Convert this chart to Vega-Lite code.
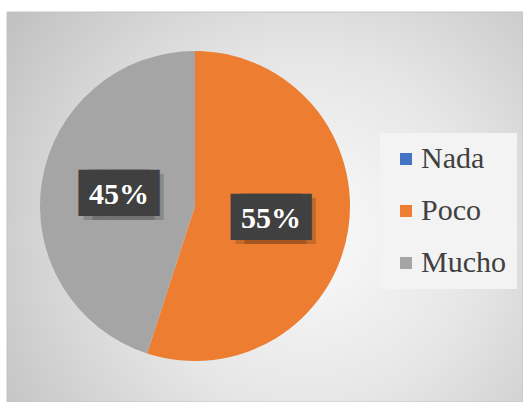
{
  "$schema": "https://vega.github.io/schema/vega-lite/v6.json",
  "width": 516,
  "height": 390,
  "autosize": {"type": "none"},
  "padding": {"left": 7, "top": 12, "right": 0, "bottom": 0},
  "background": "white",
  "config": {"view": {"stroke": null}},
  "data": {
    "values": [
      {"categoria": "Nada", "valor": 0, "orden": 1, "etiqueta": "0%"},
      {"categoria": "Poco", "valor": 55, "orden": 2, "etiqueta": "55%"},
      {"categoria": "Mucho", "valor": 45, "orden": 3, "etiqueta": "45%"}
    ]
  },
  "layer": [
    {
      "data": {"values": [{"fondo": 1}]},
      "mark": {
        "type": "rect",
        "stroke": "#c4c4c4",
        "strokeWidth": 1,
        "fill": {
          "gradient": "radial",
          "x1": 0.58, "y1": 0.55, "r1": 0,
          "x2": 0.58, "y2": 0.55, "r2": 0.75,
          "stops": [
            {"offset": 0, "color": "#fbfbfb"},
            {"offset": 0.45, "color": "#e6e6e6"},
            {"offset": 1, "color": "#bdbdbd"}
          ]
        }
      },
      "encoding": {}
    },
    {
      "mark": {"type": "arc", "x": 188, "y": 194, "outerRadius": 155},
      "encoding": {
        "theta": {"field": "valor", "type": "quantitative", "stack": true},
        "order": {"field": "orden", "type": "quantitative", "sort": "ascending"},
        "color": {
          "field": "categoria",
          "type": "nominal",
          "scale": {"domain": ["Nada", "Poco", "Mucho"], "range": ["#4472C4", "#ED7D31", "#A5A5A5"]},
          "legend": {
            "title": null,
            "orient": "none",
            "legendX": 373,
            "legendY": 121,
            "symbolType": "square",
            "symbolSize": 144,
            "symbolStrokeWidth": 0,
            "labelFont": "Liberation Serif",
            "labelFontSize": 30,
            "labelColor": "#404040",
            "labelOffset": 0,
            "rowPadding": 22,
            "padding": 11,
            "fillColor": "#f3f3f3"
          }
        }
      }
    },
    {
      "transform": [{"filter": "datum.valor > 0"}],
      "mark": {"type": "text", "x": 188, "y": 194, "radius": 77, "dx": 0, "dy": 4, "text": "███", "font": "DejaVu Sans Mono", "fontSize": 39, "baseline": "middle", "align": "center", "color": "#000000", "opacity": 0.16},
      "encoding": {
        "theta": {"field": "valor", "type": "quantitative", "stack": true},
        "order": {"field": "orden", "type": "quantitative", "sort": "ascending"}
      }
    },
    {
      "transform": [{"filter": "datum.valor > 0"}],
      "mark": {"type": "text", "x": 188, "y": 194, "radius": 77, "dx": 9, "dy": 4, "text": "███", "font": "DejaVu Sans Mono", "fontSize": 39, "baseline": "middle", "align": "center", "color": "#000000", "opacity": 0.16},
      "encoding": {
        "theta": {"field": "valor", "type": "quantitative", "stack": true},
        "order": {"field": "orden", "type": "quantitative", "sort": "ascending"}
      }
    },
    {
      "transform": [{"filter": "datum.valor > 0"}],
      "mark": {"type": "text", "x": 188, "y": 194, "radius": 77, "dx": -5, "text": "███", "font": "DejaVu Sans Mono", "fontSize": 39, "baseline": "middle", "align": "center", "color": "#404040"},
      "encoding": {
        "theta": {"field": "valor", "type": "quantitative", "stack": true},
        "order": {"field": "orden", "type": "quantitative", "sort": "ascending"}
      }
    },
    {
      "transform": [{"filter": "datum.valor > 0"}],
      "mark": {"type": "text", "x": 188, "y": 194, "radius": 77, "dx": 5, "text": "███", "font": "DejaVu Sans Mono", "fontSize": 39, "baseline": "middle", "align": "center", "color": "#404040"},
      "encoding": {
        "theta": {"field": "valor", "type": "quantitative", "stack": true},
        "order": {"field": "orden", "type": "quantitative", "sort": "ascending"}
      }
    },
    {
      "transform": [{"filter": "datum.valor > 0"}],
      "mark": {"type": "text", "x": 188, "y": 194, "radius": 77, "font": "Liberation Serif", "fontSize": 30, "fontWeight": "bold", "baseline": "middle", "align": "center", "color": "white", "dy": 1},
      "encoding": {
        "theta": {"field": "valor", "type": "quantitative", "stack": true},
        "order": {"field": "orden", "type": "quantitative", "sort": "ascending"},
        "text": {"field": "etiqueta", "type": "nominal"}
      }
    }
  ]
}
